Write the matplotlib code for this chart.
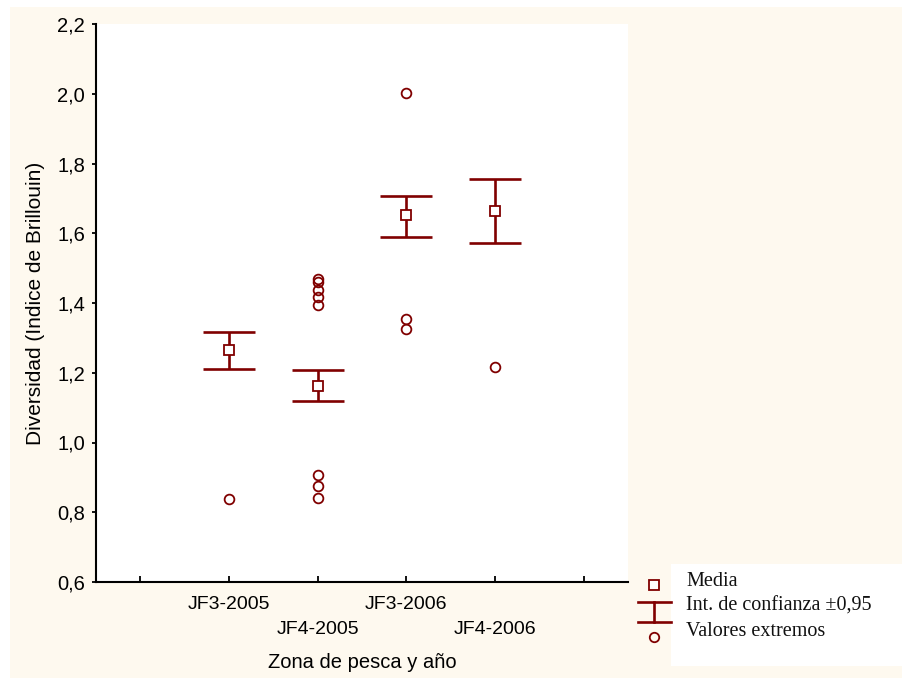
import matplotlib
matplotlib.use("Agg")
import matplotlib.pyplot as plt
from matplotlib.lines import Line2D
from matplotlib.patches import Rectangle

# ---- data ----
categories = ["JF3-2005", "JF4-2005", "JF3-2006", "JF4-2006"]
means = [1.265, 1.163, 1.652, 1.665]
ci_upper = [1.318, 1.209, 1.708, 1.756]
ci_lower = [1.212, 1.120, 1.590, 1.573]
outliers = [
    [0.839],
    [1.470, 1.459, 1.437, 1.416, 1.393, 0.907, 0.875, 0.840],
    [2.003, 1.353, 1.326],
    [1.217],
]
yticks = [0.6, 0.8, 1.0, 1.2, 1.4, 1.6, 1.8, 2.0, 2.2]
legend_labels = ["Media", "Int. de confianza \u00b10,95", "Valores extremos"]

RED = "#800000"
CREAM = "#FEF9EF"
W, H = 902, 682

fig = plt.figure(figsize=(W / 100, H / 100), dpi=100, facecolor="white")
fig.add_artist(Rectangle((10 / W, 1 - 678 / H), (W - 10) / W, (678 - 7) / H,
                         transform=fig.transFigure, facecolor=CREAM,
                         edgecolor="none", zorder=-10))

ax = fig.add_axes([96 / W, 1 - 582 / H, (628 - 96) / W, (582 - 24) / H])
ax.set_facecolor("white")

xs = list(range(1, len(categories) + 1))
cap = 0.295
for x, m, lo, hi, outs in zip(xs, means, ci_lower, ci_upper, outliers):
    ax.plot([x, x], [lo, hi], color=RED, lw=1.9, solid_capstyle="butt", zorder=2)
    ax.plot([x - cap, x + cap], [hi, hi], color=RED, lw=1.9, solid_capstyle="butt", zorder=2)
    ax.plot([x - cap, x + cap], [lo, lo], color=RED, lw=1.9, solid_capstyle="butt", zorder=2)
    ax.plot([x], [m], marker="s", ms=7.2, mfc="white", mec=RED, mew=1.3,
            linestyle="none", zorder=3)
    ax.plot([x] * len(outs), outs, marker="o", ms=7, mfc="none", mec=RED,
            mew=1.3, linestyle="none", zorder=3)

ax.set_xlim(-0.5, 5.5)
ax.set_ylim(0.6, 2.2)
ax.set_yticks(yticks)
ax.set_yticklabels([f"{v:.1f}".replace(".", ",") for v in yticks])
ax.set_xticks(range(0, 6))
xlabels = [""] + [c if i % 2 == 0 else "\n" + c for i, c in enumerate(categories)] + [""]
ax.set_xticklabels(xlabels)

for s in ["top", "right"]:
    ax.spines[s].set_visible(False)
for s in ["left", "bottom"]:
    ax.spines[s].set_linewidth(1.5)
    ax.spines[s].set_color("black")

fam = ["Liberation Sans", "DejaVu Sans"]
ax.tick_params(axis="y", direction="out", length=3, width=1.3, pad=5,
               labelsize=14.5)
ax.tick_params(axis="x", direction="in", length=4, width=1.3, pad=10,
               labelsize=14)
for t in ax.get_xticklabels() + ax.get_yticklabels():
    t.set_fontfamily(fam)
for t in ax.get_xticklabels():
    t.set_linespacing(1.62)

ax.set_ylabel("Diversidad (Indice de Brillouin)", fontsize=15, family=fam, labelpad=9)
fig.text(362 / W, 1 - 663 / H, "Zona de pesca y a\u00f1o", fontsize=14.5, family=fam,
         ha="center", va="center")

# ---- legend (drawn in figure pixels) ----
fig.add_artist(Rectangle((671 / W, 1 - 666 / H), (W - 671) / W, (666 - 564) / H,
                         transform=fig.transFigure, facecolor="white",
                         edgecolor="none", zorder=-5))

def fx(p):
    return p / W

def fy(p):
    return 1 - p / H

fig.add_artist(Line2D([fx(654)], [fy(585)], marker="s", ms=6.8, mfc="white",
                      mec=RED, mew=1.3, linestyle="none", transform=fig.transFigure))
fig.add_artist(Line2D([fx(638), fx(671)], [fy(602), fy(602)], color=RED, lw=1.9,
                      transform=fig.transFigure))
fig.add_artist(Line2D([fx(638), fx(671)], [fy(622), fy(622)], color=RED, lw=1.9,
                      transform=fig.transFigure))
fig.add_artist(Line2D([fx(654), fx(654)], [fy(602), fy(622)], color=RED, lw=1.9,
                      transform=fig.transFigure))
fig.add_artist(Line2D([fx(654)], [fy(637)], marker="o", ms=6.8, mfc="none",
                      mec=RED, mew=1.3, linestyle="none", transform=fig.transFigure))

serif = ["Liberation Serif", "DejaVu Serif"]
for lab, yp in zip(legend_labels, [581, 606, 632]):
    fig.text(fx(686), fy(yp), lab, fontsize=14.5, family=serif, ha="left",
             va="center", color="#111111")

fig.savefig("out.png", dpi=100, facecolor="white")
